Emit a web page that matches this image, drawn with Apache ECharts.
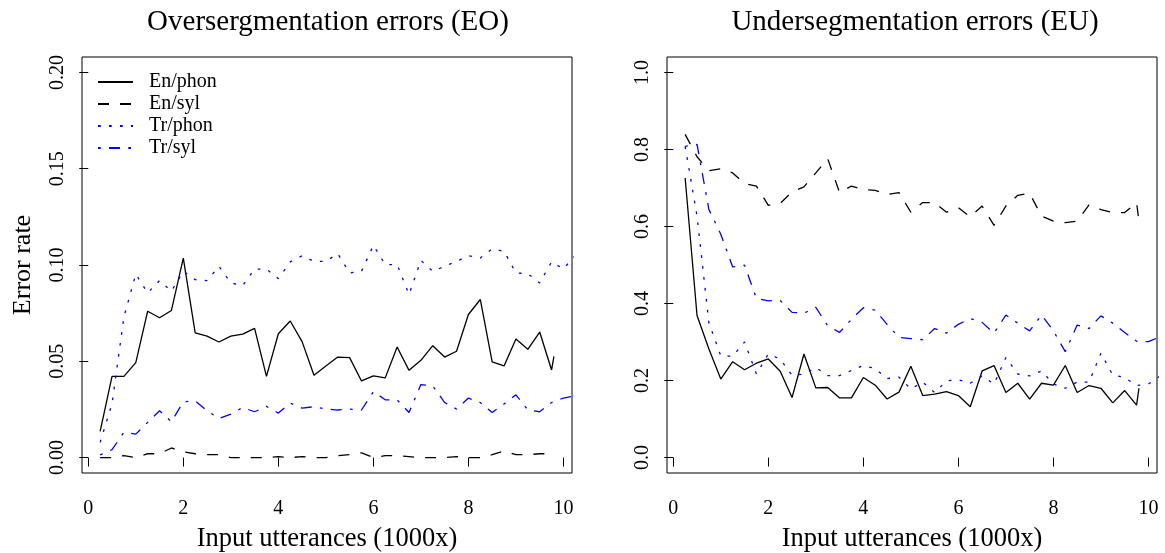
<!DOCTYPE html>
<html>
<head>
<meta charset="utf-8">
<script src="https://cdn.jsdelivr.net/npm/echarts@6/dist/echarts.min.js"></script>
<style>
html,body{margin:0;padding:0;background:#fff;}
#chart{width:1165px;height:553px;}
</style>
</head>
<body>
<div id="chart"></div>
<script>
// x positions (thousands of input utterances)
const xEn = [0.25,0.5,0.75,1,1.25,1.5,1.75,2,2.25,2.5,2.75,3,3.25,3.5,3.75,4,4.25,4.5,4.75,5,5.25,5.5,5.75,6,6.25,6.5,6.75,7,7.25,7.5,7.75,8,8.25,8.5,8.75,9,9.25,9.5,9.75,9.8];
const xTr = [0.25,0.5,0.75,1,1.25,1.5,1.75,2,2.25,2.5,2.75,3,3.25,3.5,3.75,4,4.25,4.5,4.75,5,5.25,5.5,5.75,6,6.25,6.5,6.75,7,7.25,7.5,7.75,8,8.25,8.5,8.75,9,9.25,9.5,9.75,10,10.25];

// Oversegmentation errors (EO)
const enPhonEO = [0.0136,0.0422,0.0422,0.0493,0.076,0.0726,0.0764,0.1036,0.0648,0.0631,0.060,0.0631,0.0641,0.0671,0.0422,0.0643,0.0709,0.0602,0.0428,0.0476,0.0522,0.0519,0.0398,0.0424,0.0414,0.0574,0.0453,0.0505,0.0581,0.0522,0.0552,0.0743,0.0821,0.0497,0.0476,0.0616,0.0562,0.0652,0.0455,0.0526];
const enSylEO = [0.000,0.000,0.001,0.000,0.002,0.002,0.005,0.003,0.002,0.0015,0.0015,0.000,0.000,0.000,0.000,0.0005,0.000,0.0005,0.000,0.000,0.001,0.0015,0.0025,0.000,0.001,0.001,0.0005,0.000,0.000,0.000,0.0005,0.000,0.000,0.0015,0.0035,0.0015,0.0015,0.002,0.002,0.002];
const trPhonEO = [0.0079,0.028,0.073,0.0953,0.0855,0.0919,0.0864,0.0967,0.0924,0.0919,0.0993,0.0907,0.0893,0.0979,0.0979,0.0929,0.1016,0.1048,0.1019,0.1019,0.1059,0.0959,0.0967,0.1102,0.1002,0.1002,0.0847,0.1024,0.0967,0.0993,0.1019,0.1048,0.1036,0.1084,0.1071,0.0959,0.0955,0.0907,0.1016,0.098,0.105];
const trSylEO = [0.0014,0.0041,0.0131,0.0122,0.0183,0.0243,0.0186,0.029,0.0295,0.0243,0.0203,0.0226,0.026,0.0238,0.0266,0.0231,0.0283,0.0257,0.0264,0.0253,0.0247,0.0252,0.0247,0.0343,0.030,0.030,0.0234,0.0379,0.0372,0.0286,0.0252,0.0309,0.0286,0.0234,0.0278,0.0326,0.0248,0.0238,0.0286,0.0309,0.032];

// Undersegmentation errors (EU)
const enPhonEU = [0.726,0.369,0.282,0.204,0.249,0.228,0.245,0.256,0.224,0.156,0.269,0.181,0.182,0.155,0.155,0.208,0.188,0.152,0.170,0.237,0.161,0.165,0.171,0.161,0.132,0.225,0.239,0.169,0.193,0.152,0.193,0.188,0.239,0.169,0.187,0.180,0.142,0.174,0.136,0.180];
const enSylEU = [0.839,0.781,0.745,0.750,0.739,0.711,0.705,0.655,0.660,0.690,0.703,0.739,0.776,0.688,0.705,0.696,0.694,0.683,0.688,0.637,0.662,0.662,0.637,0.649,0.625,0.653,0.603,0.653,0.681,0.686,0.627,0.614,0.610,0.614,0.656,0.644,0.636,0.636,0.662,0.614];
const trPhonEU = [0.808,0.627,0.350,0.264,0.263,0.300,0.217,0.269,0.256,0.213,0.217,0.234,0.213,0.213,0.226,0.239,0.231,0.205,0.209,0.178,0.196,0.169,0.199,0.202,0.193,0.212,0.191,0.260,0.217,0.212,0.225,0.191,0.180,0.196,0.196,0.271,0.214,0.208,0.187,0.191,0.212];
const trSylEU = [0.808,0.813,0.644,0.580,0.495,0.4995,0.413,0.407,0.408,0.377,0.375,0.390,0.342,0.325,0.359,0.389,0.383,0.346,0.312,0.309,0.306,0.335,0.323,0.346,0.361,0.351,0.323,0.370,0.349,0.329,0.370,0.329,0.275,0.344,0.335,0.368,0.349,0.325,0.302,0.301,0.314];

// tick values / labels
const xTicks = [0,2,4,6,8,10];
const yTicksEO = [0,0.05,0.1,0.15,0.2];
const yTicksEU = [0,0.2,0.4,0.6,0.8,1.0];
const seriesNames = ['En/phon','En/syl','Tr/phon','Tr/syl'];
const titles = ['Oversergmentation errors (EO)','Undersegmentation errors (EU)'];

const FONT = 'Liberation Serif';
const styles = [
  {color:'#000000', type:'solid'},
  {color:'#000000', type:[11,11]},
  {color:'#0000ff', type:[2.75,8.25]},
  {color:'#0000ff', type:[2.75,8.25,11,8.25]}
];
function pairs(xs, ys){ return ys.map((y,i)=>[xs[i], y]); }

const panels = [
  [[xEn,enPhonEO],[xEn,enSylEO],[xTr,trPhonEO],[xTr,trSylEO]],
  [[xEn,enPhonEU],[xEn,enSylEU],[xTr,trPhonEU],[xTr,trSylEU]]
];

const series = [];
panels.forEach((p, pi) => {
  p.forEach((d, si) => {
    series.push({
      type:'line', name: seriesNames[si], xAxisIndex: pi, yAxisIndex: pi,
      data: pairs(d[0], d[1]), symbol:'none', clip:true, animation:false,
      lineStyle:{color: styles[si].color, type: styles[si].type, width:1.3},
      itemStyle:{color: styles[si].color}, z: 3
    });
  });
});

function xAxisCfg(gi){
  return {
    gridIndex: gi, type:'value', min:-0.132, max:10.18,
    axisLine:{show:false}, splitLine:{show:false},
    axisTick:{show:true, length:9, lineStyle:{color:'#000', width:1}, customValues: xTicks},
    axisLabel:{customValues: xTicks, margin:26, fontSize:20, color:'#000', fontFamily:FONT},
    name:'Input utterances (1000x)', nameLocation:'middle', nameGap:53,
    nameTextStyle:{fontSize:26.5, color:'#000', fontFamily:FONT}
  };
}
function yAxisCfg(gi, mn, mx, ticks, dec, name){
  return {
    gridIndex: gi, type:'value', min:mn, max:mx,
    axisLine:{show:false}, splitLine:{show:false},
    axisTick:{show:true, length:9, lineStyle:{color:'#000', width:1}, customValues: ticks},
    axisLabel:{customValues: ticks, rotate:90, margin:14, fontSize:20, color:'#000', fontFamily:FONT,
      formatter: v => Number(v).toFixed(dec)},
    name: name, nameLocation:'middle', nameGap:46,
    nameTextStyle:{fontSize:26, color:'#000', fontFamily:FONT}
  };
}

const chart = echarts.init(document.getElementById('chart'), null, {renderer:'canvas'});
chart.setOption({
  backgroundColor:'#ffffff',
  animation:false,
  title: [
    {text: titles[0], left: 323, top: 3, textAlign:'center',
     textStyle:{fontSize:29, fontWeight:'normal', color:'#000', fontFamily:FONT}},
    {text: titles[1], left: 910, top: 3, textAlign:'center',
     textStyle:{fontSize:29, fontWeight:'normal', color:'#000', fontFamily:FONT}}
  ],
  legend: {
    data: seriesNames, orient:'vertical', left: 92, top: 67,
    itemWidth: 35, itemHeight: 14, itemGap: 2,
    itemStyle:{opacity:0},
    textStyle:{fontSize:20, color:'#000', fontFamily:FONT, padding:[0,0,0,11]},
    selectedMode:false
  },
  grid: [
    {left:82, top:57, width:490, height:416, show:true, borderColor:'#000', borderWidth:1, backgroundColor:'transparent', outerBoundsMode:'none', containLabel:false},
    {left:667, top:57, width:490, height:416, show:true, borderColor:'#000', borderWidth:1, backgroundColor:'transparent', outerBoundsMode:'none', containLabel:false}
  ],
  xAxis: [xAxisCfg(0), xAxisCfg(1)],
  yAxis: [
    yAxisCfg(0, -0.008, 0.208, yTicksEO, 2, 'Error rate'),
    yAxisCfg(1, -0.04, 1.04, yTicksEU, 1, '')
  ],
  series: series
});
</script>
</body>
</html>
